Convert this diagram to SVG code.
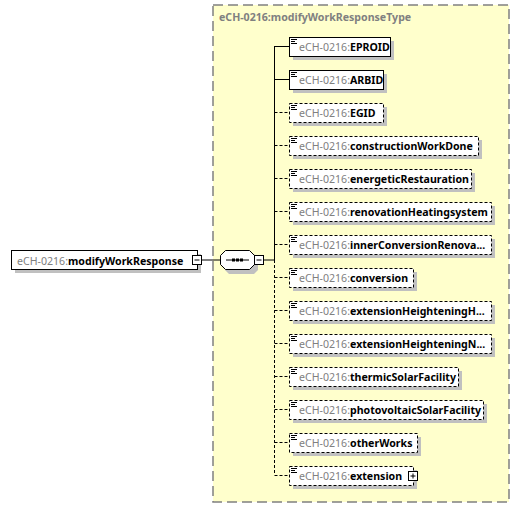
<svg xmlns="http://www.w3.org/2000/svg" width="519" height="507" viewBox="0 0 519 507">
<style>
.t{font-family:"Noto Sans","Open Sans",sans-serif;font-size:10.6px}
.p{fill:#808080}
.b{font-weight:bold;fill:#000}
.box{fill:#fff;stroke:#000;stroke-width:1}
.opt{stroke-dasharray:3,2}
.sh{fill:#c0c0c0}
.ln{stroke:#000;stroke-width:1;fill:none}
.dl{stroke-dasharray:3,2}
.ic{stroke:#000;stroke-width:1}
</style>
<rect x="213" y="5" width="296" height="497" fill="#ffffcc" stroke="#808080" stroke-width="1.5" stroke-dasharray="10,5"/>
<text x="219" y="21" class="t" style="font-weight:bold;fill:#808080">eCH-0216:modifyWorkResponseType</text>
<g id="connectors">
<line class="ln" x1="202" y1="260" x2="220" y2="260"/>
<line class="ln" x1="264" y1="260" x2="274.5" y2="260"/>
<line class="ln" x1="274.5" y1="46" x2="274.5" y2="260"/>
<line class="ln dl" x1="274.5" y1="260" x2="274.5" y2="475"/>
<line class="ln" x1="274.5" y1="46.5" x2="289" y2="46.5"/>
<line class="ln" x1="274.5" y1="79.5" x2="289" y2="79.5"/>
<line class="ln dl" x1="274.5" y1="112.5" x2="289" y2="112.5"/>
<line class="ln dl" x1="274.5" y1="145.5" x2="289" y2="145.5"/>
<line class="ln dl" x1="274.5" y1="178.5" x2="289" y2="178.5"/>
<line class="ln dl" x1="274.5" y1="211.5" x2="289" y2="211.5"/>
<line class="ln dl" x1="274.5" y1="244.5" x2="289" y2="244.5"/>
<line class="ln dl" x1="274.5" y1="277.5" x2="289" y2="277.5"/>
<line class="ln dl" x1="274.5" y1="310.5" x2="289" y2="310.5"/>
<line class="ln dl" x1="274.5" y1="343.5" x2="289" y2="343.5"/>
<line class="ln dl" x1="274.5" y1="376.5" x2="289" y2="376.5"/>
<line class="ln dl" x1="274.5" y1="409.5" x2="289" y2="409.5"/>
<line class="ln dl" x1="274.5" y1="442.5" x2="289" y2="442.5"/>
<line class="ln dl" x1="274.5" y1="475.5" x2="289" y2="475.5"/>
</g>
<g id="modifyWorkResponse">
<rect x="15" y="254" width="186" height="19" class="sh"/>
<rect x="11.5" y="250.5" width="186" height="19" class="box"/>
<text x="17" y="264.5" class="t"><tspan class="p">eCH-0216:</tspan><tspan class="b">modifyWorkResponse</tspan></text>
<rect x="192.5" y="255.5" width="9" height="9" class="box"/>
<line class="ln" x1="194.5" y1="260" x2="199.5" y2="260"/>
</g>
<g id="sequence">
<path d="M229,254 L254,254 L258,258 L258,270 L254,274 L229,274 L225,270 L225,258 Z" class="sh"/>
<path d="M225.5,250.5 L249.5,250.5 L254.5,255.5 L254.5,264.5 L249.5,269.5 L225.5,269.5 L220.5,264.5 L220.5,255.5 Z" class="box"/>
<line class="ln" x1="226" y1="260" x2="249" y2="260"/>
<rect x="232" y="258.5" width="3" height="3" fill="#000"/>
<rect x="236" y="258.5" width="3" height="3" fill="#000"/>
<rect x="240" y="258.5" width="3" height="3" fill="#000"/>
<rect x="254.5" y="255.5" width="9" height="9" class="box"/>
<line class="ln" x1="256.5" y1="260" x2="261.5" y2="260"/>
</g>
<g id="EPROID">
<rect x="293" y="41" width="101" height="19" class="sh"/>
<rect x="289.5" y="37.5" width="101" height="19" class="box"/>
<path d="M291,39.5h6M291,41.5h4M291,43.5h6" class="ic"/>
<text x="299" y="51" class="t"><tspan class="p">eCH-0216:</tspan><tspan class="b">EPROID</tspan></text>
</g>
<g id="ARBID">
<rect x="293" y="74" width="94" height="19" class="sh"/>
<rect x="289.5" y="70.5" width="94" height="19" class="box"/>
<path d="M291,72.5h6M291,74.5h4M291,76.5h6" class="ic"/>
<text x="299" y="84" class="t"><tspan class="p">eCH-0216:</tspan><tspan class="b">ARBID</tspan></text>
</g>
<g id="EGID">
<rect x="293" y="107" width="94" height="19" class="sh"/>
<rect x="289.5" y="103.5" width="94" height="19" class="box opt"/>
<path d="M291,105.5h6M291,107.5h4M291,109.5h6" class="ic"/>
<text x="299" y="117" class="t"><tspan class="p">eCH-0216:</tspan><tspan class="b">EGID</tspan></text>
</g>
<g id="constructionWorkDone">
<rect x="293" y="140" width="189" height="19" class="sh"/>
<rect x="289.5" y="136.5" width="189" height="19" class="box opt"/>
<path d="M291,138.5h6M291,140.5h4M291,142.5h6" class="ic"/>
<text x="299" y="150" class="t"><tspan class="p">eCH-0216:</tspan><tspan class="b">constructionWorkDone</tspan></text>
</g>
<g id="energeticRestauration">
<rect x="293" y="173" width="182" height="19" class="sh"/>
<rect x="289.5" y="169.5" width="182" height="19" class="box opt"/>
<path d="M291,171.5h6M291,173.5h4M291,175.5h6" class="ic"/>
<text x="299" y="183" class="t"><tspan class="p">eCH-0216:</tspan><tspan class="b">energeticRestauration</tspan></text>
</g>
<g id="renovationHeatingsystem">
<rect x="293" y="206" width="202" height="19" class="sh"/>
<rect x="289.5" y="202.5" width="202" height="19" class="box opt"/>
<path d="M291,204.5h6M291,206.5h4M291,208.5h6" class="ic"/>
<text x="299" y="216" class="t"><tspan class="p">eCH-0216:</tspan><tspan class="b">renovationHeatingsystem</tspan></text>
</g>
<g id="innerConversionRenovation">
<rect x="293" y="239" width="202" height="19" class="sh"/>
<rect x="289.5" y="235.5" width="202" height="19" class="box opt"/>
<path d="M291,237.5h6M291,239.5h4M291,241.5h6" class="ic"/>
<text x="299" y="249" class="t"><tspan class="p">eCH-0216:</tspan><tspan class="b">innerConversionRenova...</tspan></text>
</g>
<g id="conversion">
<rect x="293" y="272" width="124" height="19" class="sh"/>
<rect x="289.5" y="268.5" width="124" height="19" class="box opt"/>
<path d="M291,270.5h6M291,272.5h4M291,274.5h6" class="ic"/>
<text x="299" y="282" class="t"><tspan class="p">eCH-0216:</tspan><tspan class="b">conversion</tspan></text>
</g>
<g id="extensionHeighteningHeated">
<rect x="293" y="305" width="202" height="19" class="sh"/>
<rect x="289.5" y="301.5" width="202" height="19" class="box opt"/>
<path d="M291,303.5h6M291,305.5h4M291,307.5h6" class="ic"/>
<text x="299" y="315" class="t"><tspan class="p">eCH-0216:</tspan><tspan class="b">extensionHeighteningH...</tspan></text>
</g>
<g id="extensionHeighteningNotHeated">
<rect x="293" y="338" width="202" height="19" class="sh"/>
<rect x="289.5" y="334.5" width="202" height="19" class="box opt"/>
<path d="M291,336.5h6M291,338.5h4M291,340.5h6" class="ic"/>
<text x="299" y="348" class="t"><tspan class="p">eCH-0216:</tspan><tspan class="b">extensionHeighteningN...</tspan></text>
</g>
<g id="thermicSolarFacility">
<rect x="293" y="371" width="169" height="19" class="sh"/>
<rect x="289.5" y="367.5" width="169" height="19" class="box opt"/>
<path d="M291,369.5h6M291,371.5h4M291,373.5h6" class="ic"/>
<text x="299" y="381" class="t"><tspan class="p">eCH-0216:</tspan><tspan class="b">thermicSolarFacility</tspan></text>
</g>
<g id="photovoltaicSolarFacility">
<rect x="293" y="404" width="194" height="19" class="sh"/>
<rect x="289.5" y="400.5" width="194" height="19" class="box opt"/>
<path d="M291,402.5h6M291,404.5h4M291,406.5h6" class="ic"/>
<text x="299" y="414" class="t"><tspan class="p">eCH-0216:</tspan><tspan class="b">photovoltaicSolarFacility</tspan></text>
</g>
<g id="otherWorks">
<rect x="293" y="437" width="128" height="19" class="sh"/>
<rect x="289.5" y="433.5" width="128" height="19" class="box opt"/>
<path d="M291,435.5h6M291,437.5h4M291,439.5h6" class="ic"/>
<text x="299" y="447" class="t"><tspan class="p">eCH-0216:</tspan><tspan class="b">otherWorks</tspan></text>
</g>
<g id="extension">
<rect x="293" y="470" width="124" height="19" class="sh"/>
<rect x="289.5" y="466.5" width="124" height="19" class="box opt"/>
<path d="M291,468.5h6M291,470.5h4M291,472.5h6" class="ic"/>
<text x="299" y="480" class="t"><tspan class="p">eCH-0216:</tspan><tspan class="b">extension</tspan></text>
<rect x="408.5" y="471.5" width="9" height="9" class="box"/>
<path d="M410.5,476h5M413,473.5v5" class="ln"/>
</g>
</svg>
